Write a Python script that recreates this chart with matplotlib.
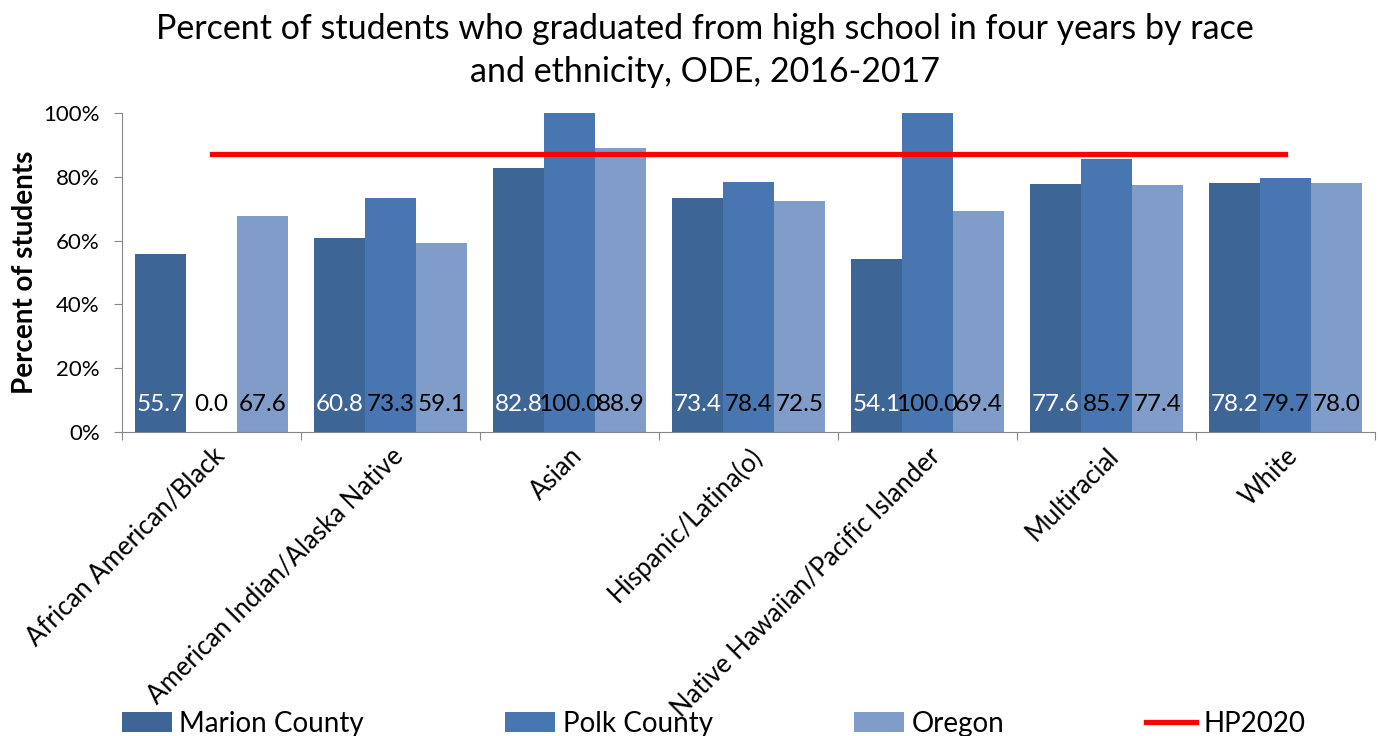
import numpy as np
import matplotlib
matplotlib.use("Agg")
import matplotlib.pyplot as plt
from matplotlib.ticker import PercentFormatter

plt.rcParams['font.family'] = ['Lato', 'DejaVu Sans']

# data
categories = ['African American/Black', 'American Indian/Alaska Native', 'Asian',
              'Hispanic/Latina(o)', 'Native Hawaiian/Pacific Islander', 'Multiracial', 'White']
marion = [55.7, 60.8, 82.8, 73.4, 54.1, 77.6, 78.2]
polk = [0.0, 73.3, 100.0, 78.4, 100.0, 85.7, 79.7]
oregon = [67.6, 59.1, 88.9, 72.5, 69.4, 77.4, 78.0]
hp2020 = [87, 87, 87, 87, 87, 87, 87]

series = [('Marion County', marion, '#3D6596', 'white'),
          ('Polk County', polk, '#4876B0', 'black'),
          ('Oregon', oregon, '#7F9DC8', 'black')]

fig = plt.figure(figsize=(13.79, 7.36), dpi=100)
ax = fig.add_axes([0.0885, 0.413, 0.9085, 0.4335])

x = np.arange(len(categories))
w = 0.285
handles = []
for i, (name, vals, col, tcol) in enumerate(series):
    pos = x + (i - 1) * w
    b = ax.bar(pos, vals, width=w, color=col, label=name)
    handles.append(b)
    for p, v in zip(pos, vals):
        ax.text(p, 8.5, f'{v:.1f}', ha='center', va='center', color=tcol, fontsize=17.5)

line, = ax.plot(x, hp2020, color='#FF0000', lw=3.8, label='HP2020')
handles.append(line)

ax.set_xlim(-0.5, len(categories) - 0.5)
ax.set_ylim(0, 100)
ax.yaxis.set_major_formatter(PercentFormatter(decimals=0))
ax.set_yticks([0, 20, 40, 60, 80, 100])
ax.set_xticks(np.arange(len(categories) + 1) - 0.5, minor=False)
ax.set_xticklabels([])
ax.set_xticks(x, minor=True)
ax.set_xticklabels(categories, minor=True, rotation=45, ha='right',
                   rotation_mode='anchor', fontsize=18.5)
ax.tick_params(axis='x', which='minor', length=0, pad=8)
ax.tick_params(axis='x', which='major', length=6, color='#868686')
ax.tick_params(axis='y', length=6, color='#868686', labelsize=16, pad=10)

for s in ['top', 'right']:
    ax.spines[s].set_visible(False)
for s in ['left', 'bottom']:
    ax.spines[s].set_color('#868686')

ax.set_ylabel('Percent of students', fontsize=20, fontweight='bold', labelpad=4)
fig.suptitle('Percent of students who graduated from high school in four years by race\nand ethnicity, ODE, 2016-2017',
             fontsize=24.5, x=0.511, y=0.982, linespacing=1.4)

fig.legend(handles, [h.get_label() for h in handles], loc='lower left', ncol=4,
           frameon=False, fontsize=20, bbox_to_anchor=(0.07, -0.035),
           columnspacing=5.1, handlelength=1.8, handletextpad=0.27)

fig.savefig('out.png', dpi=100)
